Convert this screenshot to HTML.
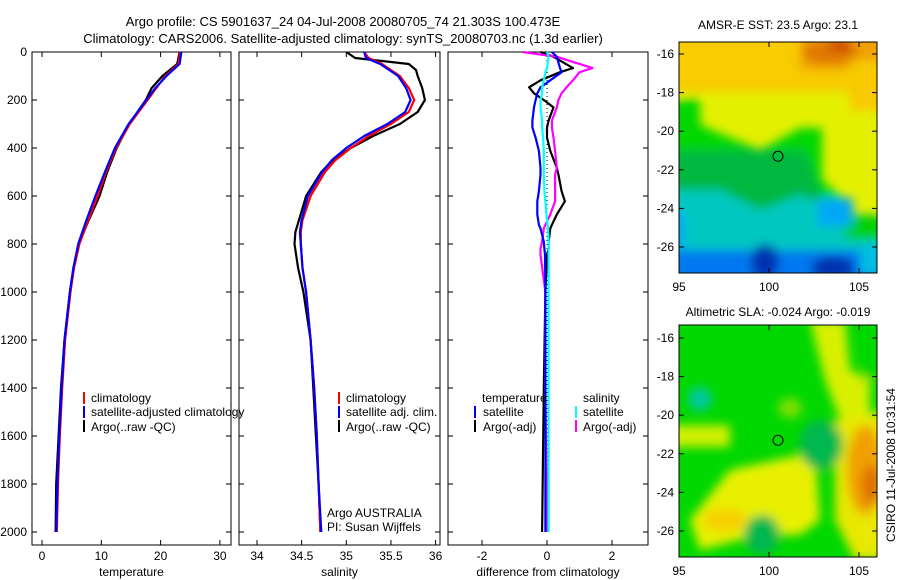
<!DOCTYPE html>
<html><head><meta charset="utf-8"><style>
body{margin:0;background:#fff;}
svg{display:block;font-family:"Liberation Sans",sans-serif;font-size:12px;}
</style></head><body>
<svg id="fig" width="900" height="580" viewBox="0 0 900 580">
<defs>
<filter id="bl" x="-20%" y="-20%" width="140%" height="140%"><feGaussianBlur stdDeviation="5"/></filter>
<clipPath id="c1"><rect x="679" y="42" width="198" height="231"/></clipPath>
<clipPath id="c2"><rect x="679" y="325" width="198" height="232"/></clipPath>
</defs>
<text x="343" y="26" text-anchor="middle" font-size="13">Argo profile: CS 5901637_24 04-Jul-2008 20080705_74 21.303S 100.473E</text>
<text x="343" y="43" text-anchor="middle" font-size="13">Climatology: CARS2006. Satellite-adjusted climatology: synTS_20080703.nc (1.3d earlier)</text>

<g id="map1" clip-path="url(#c1)">
<rect x="679" y="42" width="198" height="231" fill="#e4f000"/>
<g filter="url(#bl)">
<rect x="670" y="30" width="220" height="62" fill="#f8cc00"/>
<rect x="800" y="30" width="90" height="40" fill="#f0a000"/>
<ellipse cx="830" cy="52" rx="28" ry="12" fill="#e07800"/>
<ellipse cx="840" cy="45" rx="12" ry="6" fill="#c84000"/>
<rect x="850" y="60" width="40" height="50" fill="#f8c800"/>
<polygon points="670,100 700,98 700,125 760,150 800,128 822,128 822,180 845,200 845,215 670,215" fill="#00d800"/>
<polygon points="670,150 805,150 820,190 830,215 875,215 880,240 670,240" fill="#00b840"/>
<polygon points="840,218 890,215 890,240 840,240" fill="#00d000"/>
<polygon points="670,190 720,190 760,210 800,195 825,205 850,240 890,240 890,290 670,290" fill="#00c8c0"/>
<rect x="818" y="198" width="35" height="28" fill="#00a8f8"/>
<rect x="670" y="250" width="220" height="40" fill="#0078f0"/>
<rect x="670" y="212" width="14" height="35" fill="#00a8f8"/>
<ellipse cx="765" cy="262" rx="14" ry="18" fill="#0030b0"/>
<ellipse cx="833" cy="268" rx="22" ry="12" fill="#0030b0"/>
<rect x="860" y="245" width="20" height="30" fill="#00c0e0"/>
</g>
</g>
<g id="map2" clip-path="url(#c2)">
<rect x="679" y="325" width="198" height="232" fill="#00d800"/>
<g filter="url(#bl)">
<polygon points="810,320 845,320 850,370 870,380 870,420 840,420 825,380" fill="#d8f000"/>
<rect x="862" y="320" width="20" height="60" fill="#00d800"/>
<polygon points="835,420 890,410 890,560 855,560 835,520" fill="#e8e800"/>
<ellipse cx="865" cy="470" rx="18" ry="45" fill="#f0a000"/>
<ellipse cx="872" cy="485" rx="10" ry="20" fill="#e07000"/>
<polygon points="730,470 800,455 815,455 820,520 800,535 760,535 700,550 690,520" fill="#e8f000"/>
<ellipse cx="725" cy="520" rx="22" ry="12" fill="#f8d000"/>
<rect x="670" y="425" width="60" height="22" fill="#d0f000"/>
<ellipse cx="700" cy="399" rx="12" ry="12" fill="#00c8a0"/>
<ellipse cx="821" cy="445" rx="22" ry="25" fill="#00b850"/>
<ellipse cx="762" cy="535" rx="18" ry="20" fill="#00b850"/>
<ellipse cx="790" cy="408" rx="12" ry="10" fill="#80e000"/>
</g>
</g>
<g id="axes"></g>
<g id="marks"></g>
<g id="legends">
<g>
<line x1="84" y1="392" x2="84" y2="404" stroke="#f00" stroke-width="2"/><text x="91" y="402">climatology</text>
<line x1="84" y1="406" x2="84" y2="418" stroke="#00f" stroke-width="2"/><text x="91" y="416">satellite-adjusted climatology</text>
<line x1="84" y1="420" x2="84" y2="432" stroke="#000" stroke-width="2"/><text x="91" y="431">Argo(..raw -QC)</text>
</g>
<g>
<line x1="339" y1="392" x2="339" y2="404" stroke="#f00" stroke-width="2"/><text x="346" y="402">climatology</text>
<line x1="339" y1="406" x2="339" y2="418" stroke="#00f" stroke-width="2"/><text x="346" y="416">satellite adj. clim.</text>
<line x1="339" y1="420" x2="339" y2="432" stroke="#000" stroke-width="2"/><text x="346" y="431">Argo(..raw -QC)</text>
<text x="327" y="517">Argo AUSTRALIA</text>
<text x="327" y="531">PI: Susan Wijffels</text>
</g>
<g>
<text x="482" y="402">temperature</text>
<line x1="475" y1="406" x2="475" y2="418" stroke="#00f" stroke-width="2"/><text x="483" y="416">satellite</text>
<line x1="475" y1="420" x2="475" y2="432" stroke="#000" stroke-width="2"/><text x="483" y="431">Argo(-adj)</text>
<text x="583" y="402">salinity</text>
<line x1="576" y1="406" x2="576" y2="418" stroke="#0ff" stroke-width="2"/><text x="583" y="416">satellite</text>
<line x1="576" y1="420" x2="576" y2="432" stroke="#f0f" stroke-width="2"/><text x="583" y="431">Argo(-adj)</text>
</g>
</g>
<text x="778" y="29" text-anchor="middle">AMSR-E SST: 23.5 Argo: 23.1</text>
<text x="778" y="316" text-anchor="middle">Altimetric SLA: -0.024 Argo: -0.019</text>
<text transform="translate(895,465) rotate(-90)" text-anchor="middle">CSIRO 11-Jul-2008 10:31:54</text>
</svg>
<script>
// ---- data ----
const tempDepths = [0,50,100,150,200,300,400,500,600,700,800,900,1000,1200,1400,1600,1800,2000];
const tempClim   = [23.3,23.0,20.8,19.3,17.8,14.8,12.5,10.8,9.4,7.8,6.3,5.4,4.8,3.9,3.4,3.0,2.7,2.5];
const tempSat    = [23.5,23.2,21.0,19.1,17.6,14.6,12.3,10.6,9.0,7.5,6.1,5.3,4.7,3.8,3.3,2.9,2.6,2.4];
const tempArgo   = [23.2,22.8,20.3,18.5,17.5,14.7,12.6,11.0,9.7,7.9,6.2,5.3,4.7,3.8,3.2,2.8,2.4,2.3];
const salDepths = [0,25,50,75,100,150,200,250,300,350,400,450,500,600,700,750,800,900,1000,1200,1400,1600,1800,2000];
const salClim   = [35.2,35.25,35.4,35.5,35.6,35.7,35.76,35.7,35.5,35.25,35.05,34.88,34.76,34.6,34.51,34.49,34.49,34.51,34.55,34.6,34.64,34.67,34.69,34.71];
const salSat    = [35.2,35.22,35.38,35.48,35.58,35.67,35.72,35.66,35.46,35.2,35.0,34.84,34.73,34.57,34.5,34.48,34.49,34.51,34.55,34.6,34.64,34.67,34.69,34.72];
const salArgo   = [35.0,35.1,35.7,35.78,35.8,35.85,35.88,35.8,35.6,35.3,35.05,34.85,34.72,34.55,34.47,34.43,34.42,34.46,34.52,34.6,34.63,34.66,34.69,34.71];
const diffDepths = [0,20,67,84,118,147,172,200,231,286,315,357,412,483,510,580,622,677,720,735,790,820,845,1000,1400,2000];
const diffTempArgo = [-0.2,0.2,0.8,0.4,-0.2,-0.55,-0.4,-0.1,0.2,0.05,0.0,0.0,0.1,0.3,0.35,0.45,0.55,0.3,0.15,0.1,0.05,0.05,0.0,-0.05,-0.1,-0.15];
const diffTempSat  = [0.15,0.3,0.4,0.45,0.1,-0.2,-0.3,-0.35,-0.4,-0.45,-0.45,-0.35,-0.25,-0.2,-0.2,-0.25,-0.3,-0.3,-0.25,-0.2,-0.1,-0.08,-0.06,-0.05,-0.05,-0.05];
const diffSalSat   = [0.0,0.05,0.0,-0.05,-0.1,-0.15,-0.15,-0.2,-0.2,-0.15,-0.15,-0.12,-0.1,-0.1,-0.1,-0.08,-0.05,-0.02,0.02,0.03,0.05,0.05,0.05,0.05,0.05,0.05];
const diffSalArgo  = [-0.75,0.3,1.4,1.0,0.8,0.6,0.45,0.35,0.3,0.15,0.15,0.2,0.25,0.3,0.25,0.25,0.25,0.1,-0.05,-0.1,-0.15,-0.2,-0.2,-0.05,-0.05,0.0];
const depthTicks = [0,200,400,600,800,1000,1200,1400,1600,1800,2000];
const tempTicks = [0,10,20,30];
const salTicks = [34,34.5,35,35.5,36];
const diffTicks = [-2,0,2];
const latTicks = [-16,-18,-20,-22,-24,-26];
const lonTicks = [95,100,105];
const argoPos = [100.5,-21.3];

const NS='http://www.w3.org/2000/svg';
const axesG=document.getElementById('axes'), marksG=document.getElementById('marks');
function el(tag,attrs,parent){const e=document.createElementNS(NS,tag);for(const k in attrs)e.setAttribute(k,attrs[k]);parent.appendChild(e);return e;}
const yD = d => 52 + d*0.24;
const PT = 52, PB = 545;
const panels = [
 {x0:32,x1:231,fx:v=>42+v*5.93,ticks:tempTicks,label:'temperature',name:'temperature-panel',showY:true},
 {x0:239,x1:440,fx:v=>257+(v-34)*89.3,ticks:salTicks,label:'salinity',name:'salinity-panel'},
 {x0:448,x1:648,fx:v=>547+v*32.5,ticks:diffTicks,label:'difference from climatology',name:'difference-panel'}
];
panels.forEach(p=>{
  const r=el('rect',{x:p.x0,y:PT,width:p.x1-p.x0,height:PB-PT,fill:'none',stroke:'#000','stroke-width':1},axesG);
  
  
  p.ticks.forEach(t=>{
    const x=p.fx(t);
    el('line',{x1:x,y1:PB,x2:x,y2:PB-5,stroke:'#000'},axesG);
    el('line',{x1:x,y1:PT,x2:x,y2:PT+5,stroke:'#000'},axesG);
    const tx=el('text',{x:x,y:560,'text-anchor':'middle'},axesG);
    tx.textContent=String(t);
    
    
  });
  depthTicks.forEach(d=>{
    el('line',{x1:p.x0,y1:yD(d),x2:p.x0+5,y2:yD(d),stroke:'#000'},axesG);
    el('line',{x1:p.x1,y1:yD(d),x2:p.x1-5,y2:yD(d),stroke:'#000'},axesG);
    if(p.showY){const ty=el('text',{x:27,y:yD(d)+4,'text-anchor':'end'},axesG);ty.textContent=String(d);
      
      }
  });
  const lt=el('text',{x:(p.x0+p.x1)/2,y:576,'text-anchor':'middle'},axesG);
  lt.textContent=p.label;
  
  
});
el('line',{x1:547,y1:PT,x2:547,y2:PB-15,stroke:'#000','stroke-dasharray':'1,3'},axesG);
function line(p,depths,vals,color,name){
  const pts=depths.map((d,i)=>p.fx(vals[i]).toFixed(1)+','+yD(d).toFixed(1)).join(' ');
  const pl=el('polyline',{points:pts,fill:'none',stroke:color,'stroke-width':2.2,'stroke-linejoin':'round'},marksG);
  
  
}
line(panels[0],tempDepths,tempArgo,'#000','temp-argo-line');
line(panels[0],tempDepths,tempClim,'#f00','temp-clim-line');
line(panels[0],tempDepths,tempSat,'#00f','temp-sat-line');
line(panels[1],salDepths,salArgo,'#000','sal-argo-line');
line(panels[1],salDepths,salClim,'#f00','sal-clim-line');
line(panels[1],salDepths,salSat,'#00f','sal-sat-line');
line(panels[2],diffDepths,diffTempArgo,'#000','diff-temp-argo-line');
line(panels[2],diffDepths,diffSalArgo,'#f0f','diff-sal-argo-line');
line(panels[2],diffDepths,diffTempSat,'#00f','diff-temp-sat-line');
line(panels[2],diffDepths,diffSalSat,'#0ff','diff-sal-sat-line');
[{top:42,bot:273,lat16:54,name:'sst-map'},{top:325,bot:557,lat16:338,name:'sla-map'}].forEach(m=>{
  const fx=lon=>679+(lon-95)*18, fy=lat=>m.lat16+(-16-lat)*19.3;
  const r=el('rect',{x:679,y:m.top,width:198,height:m.bot-m.top,fill:'none',stroke:'#000'},axesG);
  
  
  latTicks.forEach(l=>{const y=fy(l);
    el('line',{x1:679,y1:y,x2:684,y2:y,stroke:'#000'},axesG);
    el('line',{x1:877,y1:y,x2:872,y2:y,stroke:'#000'},axesG);
    const t=el('text',{x:674,y:y+4,'text-anchor':'end'},axesG);t.textContent=String(l);
    
    });
  lonTicks.forEach(l=>{const x=fx(l);
    el('line',{x1:x,y1:m.bot,x2:x,y2:m.bot-5,stroke:'#000'},axesG);
    el('line',{x1:x,y1:m.top,x2:x,y2:m.top+5,stroke:'#000'},axesG);
    const t=el('text',{x:x,y:m.bot+18,'text-anchor':'middle'},axesG);t.textContent=String(l);
    
    });
  const c=el('circle',{cx:fx(argoPos[0]),cy:fy(argoPos[1]),r:5,fill:'none',stroke:'#000'},axesG);
  
  
});
</script>
</body></html>
